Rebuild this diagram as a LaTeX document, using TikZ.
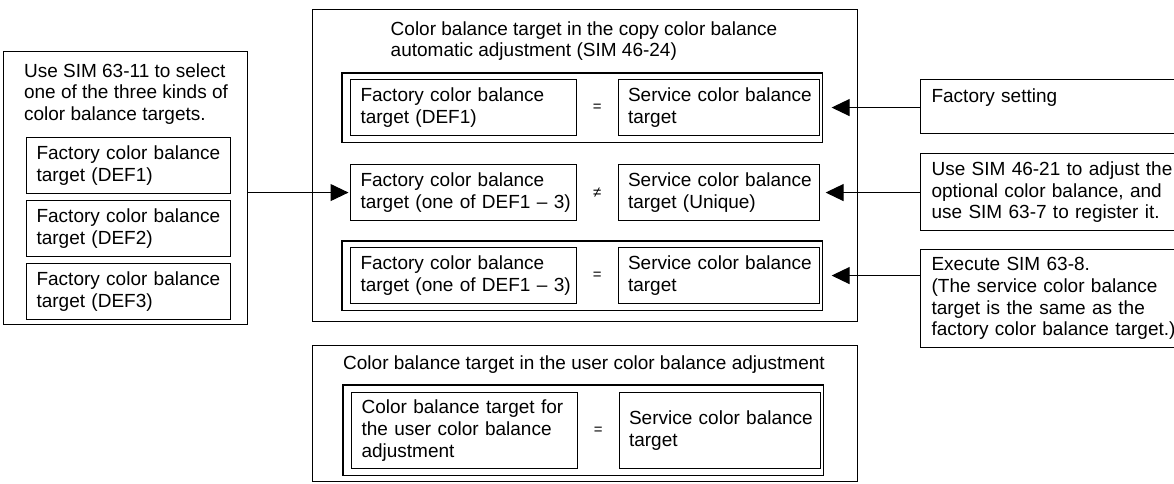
\documentclass[tikz,border=0pt]{standalone}
\usepackage{fontspec}
\setmainfont{Liberation Sans}
\usetikzlibrary{arrows.meta,positioning}

\begin{document}
\begin{tikzpicture}[x=1pt,y=-1pt,
    font=\fontsize{19}{21.7}\selectfont,
    frame/.style={draw,line width=1.1pt,anchor=north west,inner sep=0pt},
    block/.style={draw,line width=1.1pt,anchor=north west,align=left,
                  inner xsep=0pt,inner ysep=0pt,minimum height=56pt,
                  execute at begin node={\leftskip=10pt}},
    note/.style={draw,line width=1.1pt,anchor=north west,align=left,
                 inner xsep=11pt,inner ysep=8pt,text width=250pt},
    rel/.style={minimum width=40pt,inner sep=0pt,font=\fontsize{15}{15}\selectfont},
    arrow/.style={-{Triangle[length=18pt,width=17pt]},line width=1.1pt}
]
    \useasboundingbox (0,0) rectangle (1174,483);

    % selection of the factory target
    \node[frame,minimum width=244pt,minimum height=273pt] (select) at (3,51) {};
    \node[align=left] (seltitle) at (126,94) {Use SIM 63-11 to select\\one of the three kinds of\\color balance targets.};
    \node[block,text width=204pt] (def1) at (26,137) {Factory color balance\\target (DEF1)};
    \node[block,text width=204pt,below=6pt of def1] (def2) {Factory color balance\\target (DEF2)};
    \node[block,text width=204pt,below=6pt of def2] (def3) {Factory color balance\\target (DEF3)};

    % copy color balance automatic adjustment
    \node[frame,minimum width=545pt,minimum height=312pt] (copy) at (312,9) {};
    \node[align=left] (copytitle) at (584,41) {Color balance target in the copy color balance\\automatic adjustment (SIM 46-24)};

    \node[block,text width=226pt] (fac1) at (350,79) {Factory color balance\\target (DEF1)};
    \node[rel,right=0pt of fac1] (eq1) {=};
    \node[block,text width=201pt,right=0pt of eq1] (srv1) {Service color balance\\target};
    \draw[line width=1.1pt] ([shift={(-8,-6)}]fac1.north west) rectangle ([shift={(3,6)}]srv1.south east);

    \node[block,text width=226pt] (fac2) at (350,164) {Factory color balance\\target (one of DEF1 – 3)};
    \node[rel,right=0pt of fac2] (ne2) {≠};
    \node[block,text width=201pt,right=0pt of ne2] (srv2) {Service color balance\\target (Unique)};

    \node[block,text width=226pt] (fac3) at (350,247) {Factory color balance\\target (one of DEF1 – 3)};
    \node[rel,right=0pt of fac3] (eq3) {=};
    \node[block,text width=201pt,right=0pt of eq3] (srv3) {Service color balance\\target};
    \draw[line width=1.1pt] ([shift={(-8,-6)}]fac3.north west) rectangle ([shift={(3,6)}]srv3.south east);

    % user color balance adjustment
    \node[frame,minimum width=545pt,minimum height=136pt] (user) at (312,345) {};
    \node (usertitle) at (584,365) {Color balance target in the user color balance adjustment};
    \node[block,text width=226pt,minimum height=76pt] (fac4) at (351,392) {Color balance target for\\the user color balance\\adjustment};
    \node[rel,right=0pt of fac4] (eq4) {=};
    \node[block,text width=201pt,minimum height=76pt,right=0pt of eq4] (srv4) {Service color balance\\target};
    \draw[line width=1.1pt] ([shift={(-8,-7)}]fac4.north west) rectangle ([shift={(3,6)}]srv4.south east);

    % how the service target is set
    \node[note,minimum height=54pt] (set1) at (920,79) {Factory setting\\\mbox{}};
    \node[note] (set2) at (920,153) {Use SIM 46-21 to adjust the\\optional color balance, and\\use SIM 63-7 to register it.};
    \node[note] (set3) at (920,249) {Execute SIM 63-8.\\(The service color balance\\target is the same as the\\factory color balance target.)};

    \draw[arrow,shorten >=1.5pt] (fac2.west -| select.east) -- (fac2.west);
    \draw[arrow,shorten >=12pt] (srv1.east -| set1.west) -- (srv1.east);
    \draw[arrow,shorten >=6pt] (srv2.east -| set2.west) -- (srv2.east);
    \draw[arrow,shorten >=12pt] (srv3.east -| set3.west) -- (srv3.east);
\end{tikzpicture}
\end{document}
